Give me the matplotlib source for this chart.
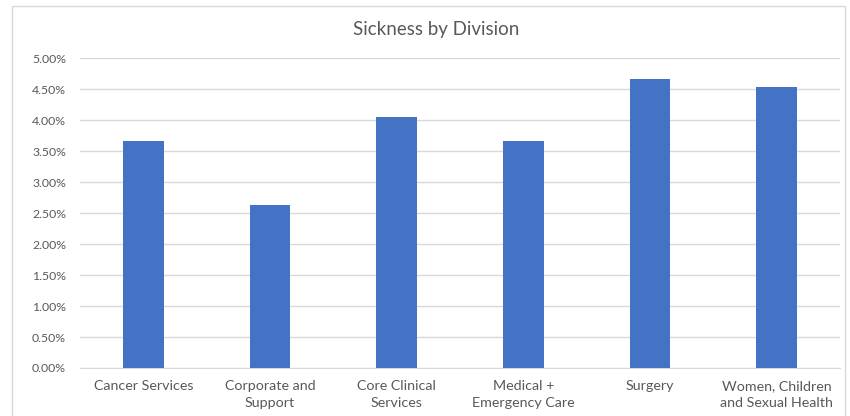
import matplotlib
matplotlib.use("Agg")
import matplotlib.pyplot as plt
from matplotlib.patches import Rectangle
from matplotlib.ticker import FuncFormatter

divisions = ["Cancer Services", "Corporate and\nSupport", "Core Clinical\nServices",
             "Medical +\nEmergency Care", "Surgery", "Women, Children\nand Sexual Health"]
sickness = [0.0366, 0.0263, 0.0406, 0.0367, 0.0466, 0.0453]

plt.rcParams['font.family'] = ['Lato', 'DejaVu Sans']
textColor = "#595959"

fig = plt.figure(figsize=(8.5, 4.16), dpi=100)
ax = fig.add_axes([80/850, 1 - 368/416, 760/850, (368 - 58.3)/416])

# outer chart border
fig.patches.append(Rectangle((12/850, -0.05), 833/850, 1.05 - 6/416, transform=fig.transFigure,
                             fill=False, edgecolor="#d9d9d9", linewidth=1))

x = range(len(divisions))
ax.bar(x, sickness, width=0.32, color="#4472C4", zorder=3)

ax.set_xlim(-0.5, len(divisions) - 0.5)
ax.set_ylim(0, 0.05)
ax.set_yticks([i * 0.005 for i in range(11)])
ax.yaxis.set_major_formatter(FuncFormatter(lambda v, p: "%.2f%%" % (v * 100)))
ax.grid(axis="y", color="#d9d9d9", linewidth=1, zorder=0)

ax.set_xticks(list(x))
ax.set_xticklabels(divisions, fontsize=10.3, color=textColor, linespacing=1.45)
for lbl in ax.get_yticklabels():
    lbl.set_fontsize(8.8)
    lbl.set_color(textColor)

ax.tick_params(axis="x", length=0, pad=9)
ax.tick_params(axis="y", length=0, pad=10)
for side in ["top", "right", "left"]:
    ax.spines[side].set_visible(False)
ax.spines["bottom"].set_color("#d9d9d9")

fig.text(436/850, 1 - 30/416, "Sickness by Division", ha="center", va="center",
         fontsize=13.5, color=textColor)

fig.savefig("out.png", dpi=100)
